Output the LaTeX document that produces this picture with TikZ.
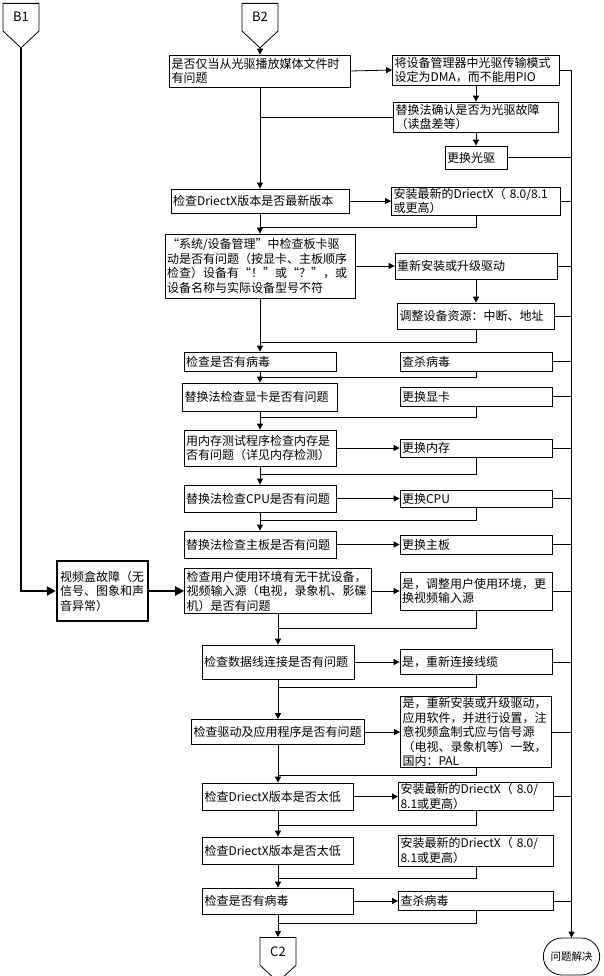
\documentclass[tikz,border=0pt]{standalone}
\usepackage{fontspec}
\setmainfont{Noto Sans CJK SC}
\usetikzlibrary{positioning, shapes.symbols, shapes.misc, arrows.meta}

\begin{document}
\begin{tikzpicture}[x=1pt, y=-1pt, line width=0.8pt,
    every node/.style={font=\fontsize{12}{14.5}\selectfont},
    stepbox/.style={draw, rectangle, align=left, inner xsep=2pt, inner ysep=1pt},
    pager/.style={draw, signal, signal to=south, signal pointer angle=94,
        minimum width=36pt, minimum height=35pt, inner sep=0pt, anchor=north,
        font=\fontsize{13}{13}\selectfont},
    flow/.style={-{Triangle[length=6pt, width=6pt]}},
    heavy/.style={line width=2.4pt, -{Triangle[length=9pt, width=9pt]}}]
\useasboundingbox (0,0) rectangle (604,976);

% off-page marks and end
\node[pager] (B1) at (21,3) {B1};
\node[pager] (B2) at (260,3) {B2};
\node[pager] (C2) at (278,937) {C2};
\node[draw, rounded rectangle, minimum width=63pt, minimum height=37pt,
      font=\fontsize{10.5}{12}\selectfont] (done) at (571.5,956.5) {问题解决};

% left column: checks
\node[stepbox, text width=177pt, minimum height=32pt] (q1) at (260,71) {%
    是否仅当从光驱播放媒体文件时\\有问题};
\node[stepbox, text width=174pt, minimum height=24pt] (q2) at (260,201) {%
    检查DriectX版本是否最新版本};
\node[stepbox, text width=186pt, minimum height=64pt] (q3) at (260,266) {%
    “系统/设备管理”中检查板卡驱\\动是否有问题（按显卡、主板顺序\\%
    检查）设备有“！”或“？”，或\\设备名称与实际设备型号不符};
\node[stepbox, text width=148pt, minimum height=19pt] (q4) at (260,361.5) {检查是否有病毒};
\node[stepbox, text width=151pt, minimum height=28pt] (q5) at (260,397) {替换法检查显卡是否有问题};
\node[stepbox, text width=148pt, minimum height=36pt] (q6) at (260,448) {%
    用内存测试程序检查内存是\\否有问题（详见内存检测）};
\node[stepbox, text width=148pt, minimum height=27pt] (q7) at (260,498.5) {替换法检查CPU是否有问题};
\node[stepbox, text width=148pt, minimum height=27pt] (q8) at (260,544.5) {替换法检查主板是否有问题};

% right column: remedies
\node[stepbox, text width=163pt, minimum height=30pt] (r1) at (476,70) {%
    将设备管理器中光驱传输模式\\设定为DMA，而不能用PIO};
\node[stepbox, text width=161pt, minimum height=30pt] (r2) at (476,117) {%
    替换法确认是否为光驱故障\\（读盘差等）};
\node[stepbox, text width=58pt, minimum height=23pt] (r3) at (476,157.5) {更换光驱};
\node[stepbox, text width=165pt, minimum height=27pt] (r4) at (476,201) {%
    安装最新的DriectX（ 8.0/8.1\\或更高）};
\node[stepbox, text width=158pt, minimum height=26pt] (r5) at (476,266) {重新安装或升级驱动};
\node[stepbox, text width=153pt, minimum height=26pt] (r6) at (476,316) {调整设备资源：中断、地址};
\node[stepbox, text width=148pt, minimum height=19pt] (r7) at (476,361.5) {查杀病毒};
\node[stepbox, text width=148pt, minimum height=19pt] (r8) at (476,396.5) {更换显卡};
\node[stepbox, text width=148pt, minimum height=18pt] (r9) at (476,448) {更换内存};
\node[stepbox, text width=148pt, minimum height=17pt] (r10) at (476,498.5) {更换CPU};
\node[stepbox, text width=148pt, minimum height=19pt] (r11) at (476,544.5) {更换主板};

% video box branch
\node[stepbox, line width=2.4pt, inner xsep=3pt, text width=85pt, minimum height=60pt] (vb)
    at (102.5,591) {视频盒故障（无\\信号、图象和声\\音异常）};
\node[stepbox, text width=183pt, minimum height=45pt] (p1) at (278,591) {%
    检查用户使用环境有无干扰设备，\\视频输入源（电视，录象机、影碟\\机）是否有问题};
\node[stepbox, text width=148pt, minimum height=34pt] (p2) at (278,662) {检查数据线连接是否有问题};
\node[stepbox, text width=169pt, minimum height=25pt] (p3) at (278,732) {检查驱动及应用程序是否有问题};
\node[stepbox, text width=147pt, minimum height=27pt] (p4) at (278,796.5) {检查DriectX版本是否太低};
\node[stepbox, text width=147pt, minimum height=27pt] (p5) at (278,850.5) {检查DriectX版本是否太低};
\node[stepbox, text width=147pt, minimum height=26pt] (p6) at (278,901) {检查是否有病毒};

\node[stepbox, text width=148pt, minimum height=38pt] (r12) at (476,591) {%
    是，调整用户使用环境，更\\换视频输入源};
\node[stepbox, text width=148pt, minimum height=25pt] (r13) at (476,662) {是，重新连接线缆};
\node[stepbox, text width=147pt, minimum height=69pt] (r14) at (476,732) {%
    是，重新安装或升级驱动，\\应用软件，并进行设置，注\\意视频盒制式应与信号源\\%
    （电视、录象机等）一致，\\国内：PAL};
\node[stepbox, text width=151pt, minimum height=25pt] (r15) at (476,796.5) {%
    安装最新的DriectX（ 8.0/\\8.1或更高）};
\node[stepbox, text width=151pt, minimum height=31pt] (r16) at (476,850.5) {%
    安装最新的DriectX（ 8.0/\\8.1或更高）};
\node[stepbox, text width=151pt, minimum height=19pt] (r17) at (476,901) {查杀病毒};

% merge points on the trunks
\coordinate (j2) at (260,227);
\coordinate (j3) at (260,342);
\coordinate (j4) at (260,377);
\coordinate (j5) at (260,417);
\coordinate (j6) at (260,474);
\coordinate (j7) at (260,520);
\coordinate (k1) at (278,628);
\coordinate (k2) at (278,687);
\coordinate (k3) at (278,775);
\coordinate (k4) at (278,825);
\coordinate (k5) at (278,878);
\coordinate (k6) at (278,923);

% upper trunk
\draw[flow] (B2.south) -- (q1.north);
\draw[flow] (q1.east) -- (r1.west);
\draw[flow] (r1.south) -- (r2.north);
\draw[flow] (r2.south) -- (r3.north);
\draw (r2.west) -- (r2.west -| q1.south);
\draw[flow] (q1.south) -- (q2.north);
\draw[flow] (q2.east) -- (r4.west);
\draw[flow] (q2.south) -- (q3.north);
\draw[flow] (q3.east) -- (r5.west);
\draw[flow] (r5.south) -- (r6.north);
\draw[flow] (q3.south) -- (q4.north);
\draw[flow] (q4.south) -- (q5.north);
\draw[flow] (q5.south) -- (q6.north);
\draw[flow] (q6.east) -- (r9.west);
\draw[flow] (q6.south) -- (q7.north);
\draw[flow] (q7.east) -- (r10.west);
\draw[flow] (q7.south) -- (q8.north);
\draw[flow] (q8.east) -- (r11.west);

% lower trunk
\draw[heavy] (B1.south) |- (vb.west);
\draw[heavy] (vb.east) -- (p1.west);
\draw[flow] (p1.east) -- (r12.west);
\draw[flow] (p1.south) -- (p2.north);
\draw[flow] (p2.east) -- (r13.west);
\draw[flow] (p2.south) -- (p3.north);
\draw[flow] (p3.east) -- (r14.west);
\draw[flow] (p3.south) -- (p4.north);
\draw[flow] (p4.east) -- (r15.west);
\draw[flow] (p4.south) -- (p5.north);
\draw[flow] (p5.south) -- (p6.north);
\draw[flow] (p6.east) -- (r17.west);
\draw[flow] (p6.south) -- (C2.north);

\foreach \r/\j in {r4/j2, r6/j3, r7/j4, r8/j5, r9/j6, r10/j7,
                   r12/k1, r13/k2, r14/k3, r15/k4, r16/k5, r17/k6}
    \draw (\r.south) |- (\j);

% solved bus
\draw[flow] (r1.east) -| (done.north);
\foreach \r in {r3, r4, r5, r6, r7, r8, r9, r10, r11, r12, r13, r14, r15, r17}
    \draw (\r.east) -- (\r.east -| done.north);
\end{tikzpicture}
\end{document}
